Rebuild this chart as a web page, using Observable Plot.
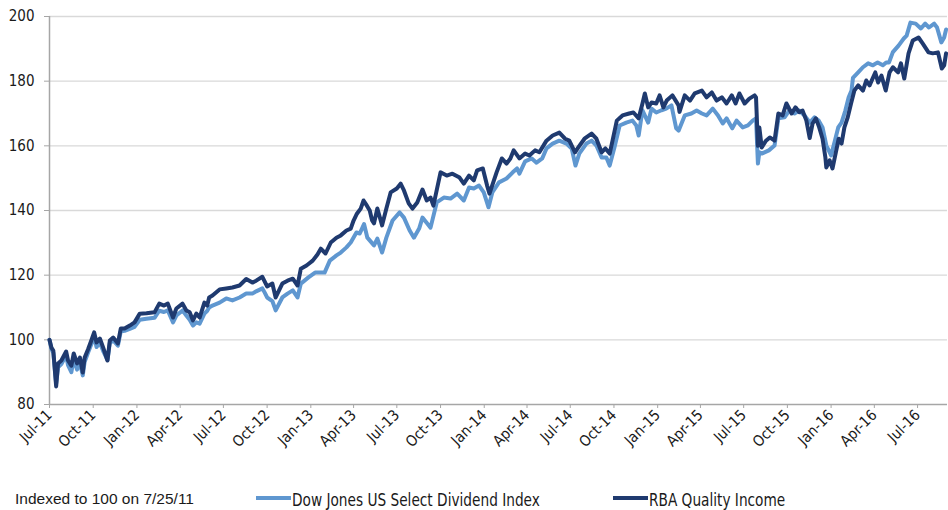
<!DOCTYPE html>
<html><head><meta charset="utf-8">
<script src="https://cdn.jsdelivr.net/npm/d3@7"></script>
<script src="https://cdn.jsdelivr.net/npm/@observablehq/plot@0.6"></script>
<style>
body{margin:0;background:#fff;}
#wrap{position:relative;width:948px;height:510px;overflow:hidden;background:#fff;}
#legend{position:absolute;left:0;top:490px;width:948px;height:20px;}
.item{position:absolute;top:0;height:20px;line-height:20px;font-family:"DejaVu Sans Condensed","DejaVu Sans",sans-serif;font-stretch:condensed;font-size:17px;color:#1a1a1a;white-space:nowrap;}
.lab{display:inline-block;margin-left:36px;transform:scaleX(0.895);transform-origin:0 50%;}
.sw{position:absolute;top:6px;width:35px;height:4px;}
.note{position:absolute;left:15px;top:-1px;height:20px;line-height:20px;font-family:"Liberation Sans",Arial,sans-serif;font-size:15.5px;color:#1a1a1a;white-space:nowrap;}
</style></head>
<body>
<div id="wrap"><div id="chart"></div>
<div id="legend">
 <div class="note">Indexed to 100 on 7/25/11</div>
 <div class="item" style="left:256px"><span class="sw" id="sw1" style="left:0"></span><span class="lab" id="lab1"></span></div>
 <div class="item" style="left:613px"><span class="sw" id="sw2" style="left:0"></span><span class="lab" id="lab2"></span></div>
</div></div>
<script>
const seriesNames = ["Dow Jones US Select Dividend Index", "RBA Quality Income"];
const seriesColors = ["#5f97d0", "#1f3a6f"];

const yTicks = [80, 100, 120, 140, 160, 180, 200];
const xTickDates = ["2011-07-25","2011-10-25","2012-01-25","2012-04-25","2012-07-25","2012-10-25","2013-01-25","2013-04-25","2013-07-25","2013-10-25","2014-01-25","2014-04-25","2014-07-25","2014-10-25","2015-01-25","2015-04-25","2015-07-25","2015-10-25","2016-01-25","2016-04-25","2016-07-25"];
const xDomain = ["2011-07-25", "2016-09-26"];

// RBA Quality Income (dark)
const rbaDates = ["2011-07-25","2011-07-29","2011-08-02","2011-08-08","2011-08-12","2011-08-19","2011-08-29","2011-09-02","2011-09-09","2011-09-14","2011-09-21","2011-09-27","2011-10-03","2011-10-07","2011-10-14","2011-10-21","2011-10-27","2011-11-01","2011-11-08","2011-11-15","2011-11-24","2011-11-29","2011-12-06","2011-12-16","2011-12-22","2011-12-30",
"2012-01-10","2012-01-20","2012-01-31","2012-02-14","2012-03-02","2012-03-12","2012-03-22","2012-03-30","2012-04-10","2012-04-17","2012-04-30","2012-05-08","2012-05-15","2012-05-22","2012-05-29","2012-06-05","2012-06-15","2012-06-21","2012-06-25","2012-07-02","2012-07-17","2012-07-31","2012-08-13","2012-08-28","2012-09-11","2012-09-24","2012-10-02","2012-10-15","2012-10-25","2012-11-05","2012-11-12","2012-11-26","2012-12-07","2012-12-18","2012-12-28",
"2013-01-04","2013-01-16","2013-01-29","2013-02-08","2013-02-15","2013-02-25","2013-03-08","2013-03-20","2013-03-29","2013-04-10","2013-04-19","2013-04-25","2013-05-02","2013-05-10","2013-05-16","2013-05-23","2013-05-29","2013-06-03","2013-06-07","2013-06-14","2013-06-24","2013-07-03","2013-07-12","2013-07-25","2013-08-02","2013-08-09","2013-08-19","2013-08-27","2013-09-06","2013-09-17","2013-09-26","2013-10-04","2013-10-10","2013-10-25","2013-11-07","2013-11-19","2013-12-04","2013-12-13","2013-12-24",
"2014-01-03","2014-01-10","2014-01-22","2014-01-31","2014-02-05","2014-02-20","2014-03-03","2014-03-13","2014-03-21","2014-03-28","2014-04-09","2014-04-21","2014-04-30","2014-05-12","2014-05-21","2014-06-05","2014-06-18","2014-07-02","2014-07-14","2014-07-23","2014-08-04","2014-08-11","2014-08-24","2014-09-08","2014-09-18","2014-09-29","2014-10-07","2014-10-16","2014-10-22","2014-10-31","2014-11-12","2014-11-26","2014-12-05","2014-12-16","2014-12-24","2014-12-29",
"2015-01-05","2015-01-12","2015-01-22","2015-01-29","2015-02-06","2015-02-13","2015-02-25","2015-03-10","2015-03-12","2015-03-23","2015-04-03","2015-04-13","2015-04-28","2015-05-08","2015-05-19","2015-05-29","2015-06-09","2015-06-19","2015-06-30","2015-07-08","2015-07-16","2015-07-27","2015-08-06","2015-08-17","2015-08-20","2015-08-24","2015-08-27","2015-09-01","2015-09-10","2015-09-18","2015-09-28","2015-10-06","2015-10-15","2015-10-23","2015-11-03","2015-11-11","2015-11-19","2015-11-26","2015-12-04","2015-12-11","2015-12-17","2015-12-24","2015-12-31",
"2016-01-07","2016-01-13","2016-01-15","2016-01-22","2016-01-28","2016-02-04","2016-02-10","2016-02-16","2016-02-22","2016-02-29","2016-03-07","2016-03-14","2016-03-22","2016-04-01","2016-04-08","2016-04-15","2016-04-27","2016-05-03","2016-05-10","2016-05-19","2016-05-27","2016-06-03","2016-06-14","2016-06-20","2016-06-27","2016-07-06","2016-07-15","2016-07-27","2016-08-05","2016-08-17","2016-08-26","2016-09-06","2016-09-14","2016-09-19","2016-09-23"];
const rbaValues = [100,97.6,96.7,85.6,92.7,93.6,96.4,93.6,92.0,95.8,92.7,94.5,89.9,94.5,97.0,99.8,102.3,99.2,100.4,97.6,93.6,99.8,100.7,98.9,103.5,103.5,
104.4,105.4,108.1,108.2,108.5,111.2,110.6,111.2,106.9,109.7,111.2,109.1,108.5,106.0,108.1,106.9,111.5,110.6,113.1,113.7,115.6,115.9,116.2,116.8,118.8,117.7,118.3,119.5,116.5,117.4,113.1,117.4,118.3,118.9,116.8,
122.0,123.0,124.5,126.4,128.2,126.7,130.1,131.6,132.3,133.8,134.4,136.9,139.0,140.6,143.1,141.5,140.0,136.9,136.0,140.6,135.4,140.6,145.6,146.8,148.3,146.2,142.2,140.6,142.5,146.5,143.1,144.0,141.5,151.8,150.8,151.4,150.2,148.3,150.8,
149.3,152.4,153.0,147.7,145.2,151.8,156.1,154.5,156.1,158.6,156.1,157.6,157.0,158.6,158.0,161.6,163.2,164.1,162.2,161.6,158.0,159.5,162.2,163.8,162.2,158.0,159.2,157.6,161.6,167.8,169.4,170.0,170.3,168.5,173.1,176.2,
171.9,173.4,173.1,175.6,171.9,174.0,175.6,172.5,170.5,175.6,174.0,176.2,177.1,175.0,176.5,174.0,175.0,173.1,175.6,173.1,176.2,173.1,174.6,175.6,175.0,160.0,165.7,159.5,161.6,162.6,161.6,170.0,169.4,173.1,170.0,171.9,170.4,170.9,167.8,162.4,166.9,168.5,165.7,
162.2,156.4,153.3,155.5,153.0,158.0,162.2,160.7,165.7,168.8,173.1,177.1,178.7,177.1,180.2,178.7,182.7,179.6,181.7,177.1,182.7,184.3,182.7,185.5,180.8,188.6,192.6,193.5,191.6,188.9,188.6,188.9,183.9,184.9,188.6];

// Dow Jones US Select Dividend Index (light)
const djDates = ["2011-07-25","2011-07-29","2011-08-02","2011-08-08","2011-08-12","2011-08-19","2011-08-29","2011-09-02","2011-09-09","2011-09-14","2011-09-21","2011-09-27","2011-10-03","2011-10-07","2011-10-14","2011-10-21","2011-10-27","2011-11-01","2011-11-08","2011-11-15","2011-11-24","2011-11-29","2011-12-06","2011-12-16","2011-12-22","2011-12-30",
"2012-01-10","2012-01-20","2012-01-31","2012-02-14","2012-03-02","2012-03-12","2012-03-22","2012-03-30","2012-04-10","2012-04-17","2012-04-30","2012-05-08","2012-05-15","2012-05-22","2012-05-29","2012-06-05","2012-06-15","2012-06-21","2012-06-25","2012-07-02","2012-07-17","2012-07-31","2012-08-13","2012-08-28","2012-09-11","2012-09-24","2012-10-02","2012-10-15","2012-10-20","2012-10-25","2012-11-05","2012-11-12","2012-11-26","2012-12-07","2012-12-18","2012-12-28",
"2013-01-04","2013-01-20","2013-02-03","2013-02-23","2013-03-06","2013-03-20","2013-03-29","2013-04-10","2013-04-19","2013-05-01","2013-05-08","2013-05-17","2013-05-24","2013-06-07","2013-06-14","2013-06-24","2013-07-03","2013-07-16","2013-07-31","2013-08-09","2013-08-21","2013-08-30","2013-09-10","2013-09-17","2013-09-27","2013-10-04","2013-10-17","2013-11-01","2013-11-15","2013-11-29","2013-12-13","2013-12-24",
"2014-01-03","2014-01-14","2014-01-24","2014-02-03","2014-02-11","2014-02-25","2014-03-13","2014-03-26","2014-04-04","2014-04-09","2014-04-21","2014-05-05","2014-05-15","2014-05-27","2014-06-05","2014-06-18","2014-07-02","2014-07-17","2014-07-28","2014-08-05","2014-08-13","2014-08-28","2014-09-08","2014-09-18","2014-09-29","2014-10-09","2014-10-16","2014-10-26","2014-11-06","2014-11-20","2014-12-03","2014-12-11","2014-12-16","2014-12-24",
"2015-01-05","2015-01-12","2015-01-22","2015-02-02","2015-02-12","2015-02-23","2015-03-05","2015-03-10","2015-03-23","2015-04-06","2015-04-17","2015-04-28","2015-05-08","2015-05-21","2015-06-01","2015-06-11","2015-06-19","2015-07-01","2015-07-10","2015-07-23","2015-08-03","2015-08-13","2015-08-20","2015-08-24","2015-08-27","2015-09-01","2015-09-16","2015-09-28","2015-10-06","2015-10-19","2015-10-29","2015-11-09","2015-11-19","2015-11-30","2015-12-11","2015-12-21","2015-12-30",
"2016-01-07","2016-01-15","2016-01-20","2016-01-25","2016-02-02","2016-02-09","2016-02-16","2016-02-24","2016-03-02","2016-03-08","2016-03-11","2016-03-22","2016-04-01","2016-04-12","2016-04-22","2016-05-02","2016-05-13","2016-05-20","2016-05-26","2016-06-03","2016-06-15","2016-06-26","2016-07-02","2016-07-10","2016-07-21","2016-08-01","2016-08-10","2016-08-18","2016-08-29","2016-09-04","2016-09-13","2016-09-19","2016-09-23"];
const djValues = [100,97.2,96.0,86.5,91.5,92.5,95.2,92.2,90.0,94.2,90.8,93.0,89.0,93.2,96.0,98.6,101.0,97.8,99.2,96.5,93.8,99.0,99.8,98.2,102.6,102.8,
103.4,104.0,106.2,106.5,106.8,109.0,108.6,109.1,105.4,107.5,109.1,107.5,106.2,104.4,105.4,105.0,108.1,109.0,110.0,110.6,111.5,112.8,112.2,113.1,114.3,114.3,115.0,115.9,114.6,113.1,112.0,109.1,113.1,114.3,115.3,113.1,
117.4,119.3,120.8,120.8,124.5,126.1,127.0,128.6,130.1,133.2,132.9,135.8,131.6,129.2,131.3,127.0,131.6,136.9,139.4,137.8,133.8,131.6,134.4,137.8,136.0,134.7,142.5,144.0,143.7,145.2,143.1,147.1,
146.8,147.7,145.6,141.0,145.6,148.7,149.9,151.8,153.0,151.4,155.2,156.1,154.8,156.1,159.2,160.7,161.6,160.7,159.2,153.9,157.6,160.7,161.6,160.1,156.4,156.4,153.9,159.5,166.3,167.2,167.8,166.3,163.2,171.0,
167.2,171.5,170.3,171.0,171.5,172.5,165.4,164.7,169.4,170.0,170.9,170.0,169.4,171.5,169.4,166.9,168.5,165.4,167.8,165.7,166.3,167.8,168.5,154.5,158.0,157.6,158.6,160.1,168.5,168.8,170.9,170.0,170.9,169.4,167.2,168.8,167.8,
165.7,160.1,158.6,157.0,161.6,165.7,167.2,170.9,175.0,177.1,181.0,182.7,184.3,185.5,184.9,185.8,184.9,185.8,185.8,189.0,191.0,193.2,194.1,198.1,197.8,196.3,197.8,196.6,197.8,196.6,192.0,193.5,196.0];

const parse = d3.utcParse("%Y-%m-%d");
const dj = djDates.map((d, i) => ({date: parse(d), value: djValues[i]}));
const rba = rbaDates.map((d, i) => ({date: parse(d), value: rbaValues[i]}));
const xTicks = xTickDates.map(parse);
const axisColor = "#a6a6a6";

const chart = Plot.plot({
  width: 948,
  height: 480,
  marginLeft: 49,
  marginRight: 1,
  marginTop: 16,
  marginBottom: 76,
  style: {fontFamily: '"DejaVu Sans Condensed","DejaVu Sans",sans-serif', fontSize: "15px", color: "#1a1a1a", background: "#fff"},
  x: {type: "utc", domain: xDomain.map(parse)},
  y: {domain: [80, 200]},
  marks: [
    Plot.gridY(yTicks.filter(v => v > 80), {stroke: "#d9d9d9", strokeOpacity: 1, strokeWidth: 1.3}),
    Plot.axisY(yTicks, {tickSize: 5, tickPadding: 10, stroke: axisColor, label: null, fontSize: 15}),
    Plot.axisX(xTicks, {tickSize: 4, tickPadding: 4, tickRotate: -45, tickFormat: d3.utcFormat("%b-%y"), stroke: axisColor, label: null, fontSize: 15}),
    Plot.ruleX([parse(xDomain[0])], {stroke: axisColor, strokeWidth: 1.5}),
    Plot.ruleY([80], {stroke: axisColor, strokeWidth: 1.5}),
    Plot.line(dj, {x: "date", y: "value", stroke: seriesColors[0], strokeWidth: 4}),
    Plot.line(rba, {x: "date", y: "value", stroke: seriesColors[1], strokeWidth: 4})
  ]
});
document.getElementById("chart").appendChild(chart);
document.getElementById("sw1").style.background = seriesColors[0];
document.getElementById("sw2").style.background = seriesColors[1];
document.getElementById("lab1").textContent = seriesNames[0];
document.getElementById("lab2").textContent = seriesNames[1];
</script>
</body></html>
